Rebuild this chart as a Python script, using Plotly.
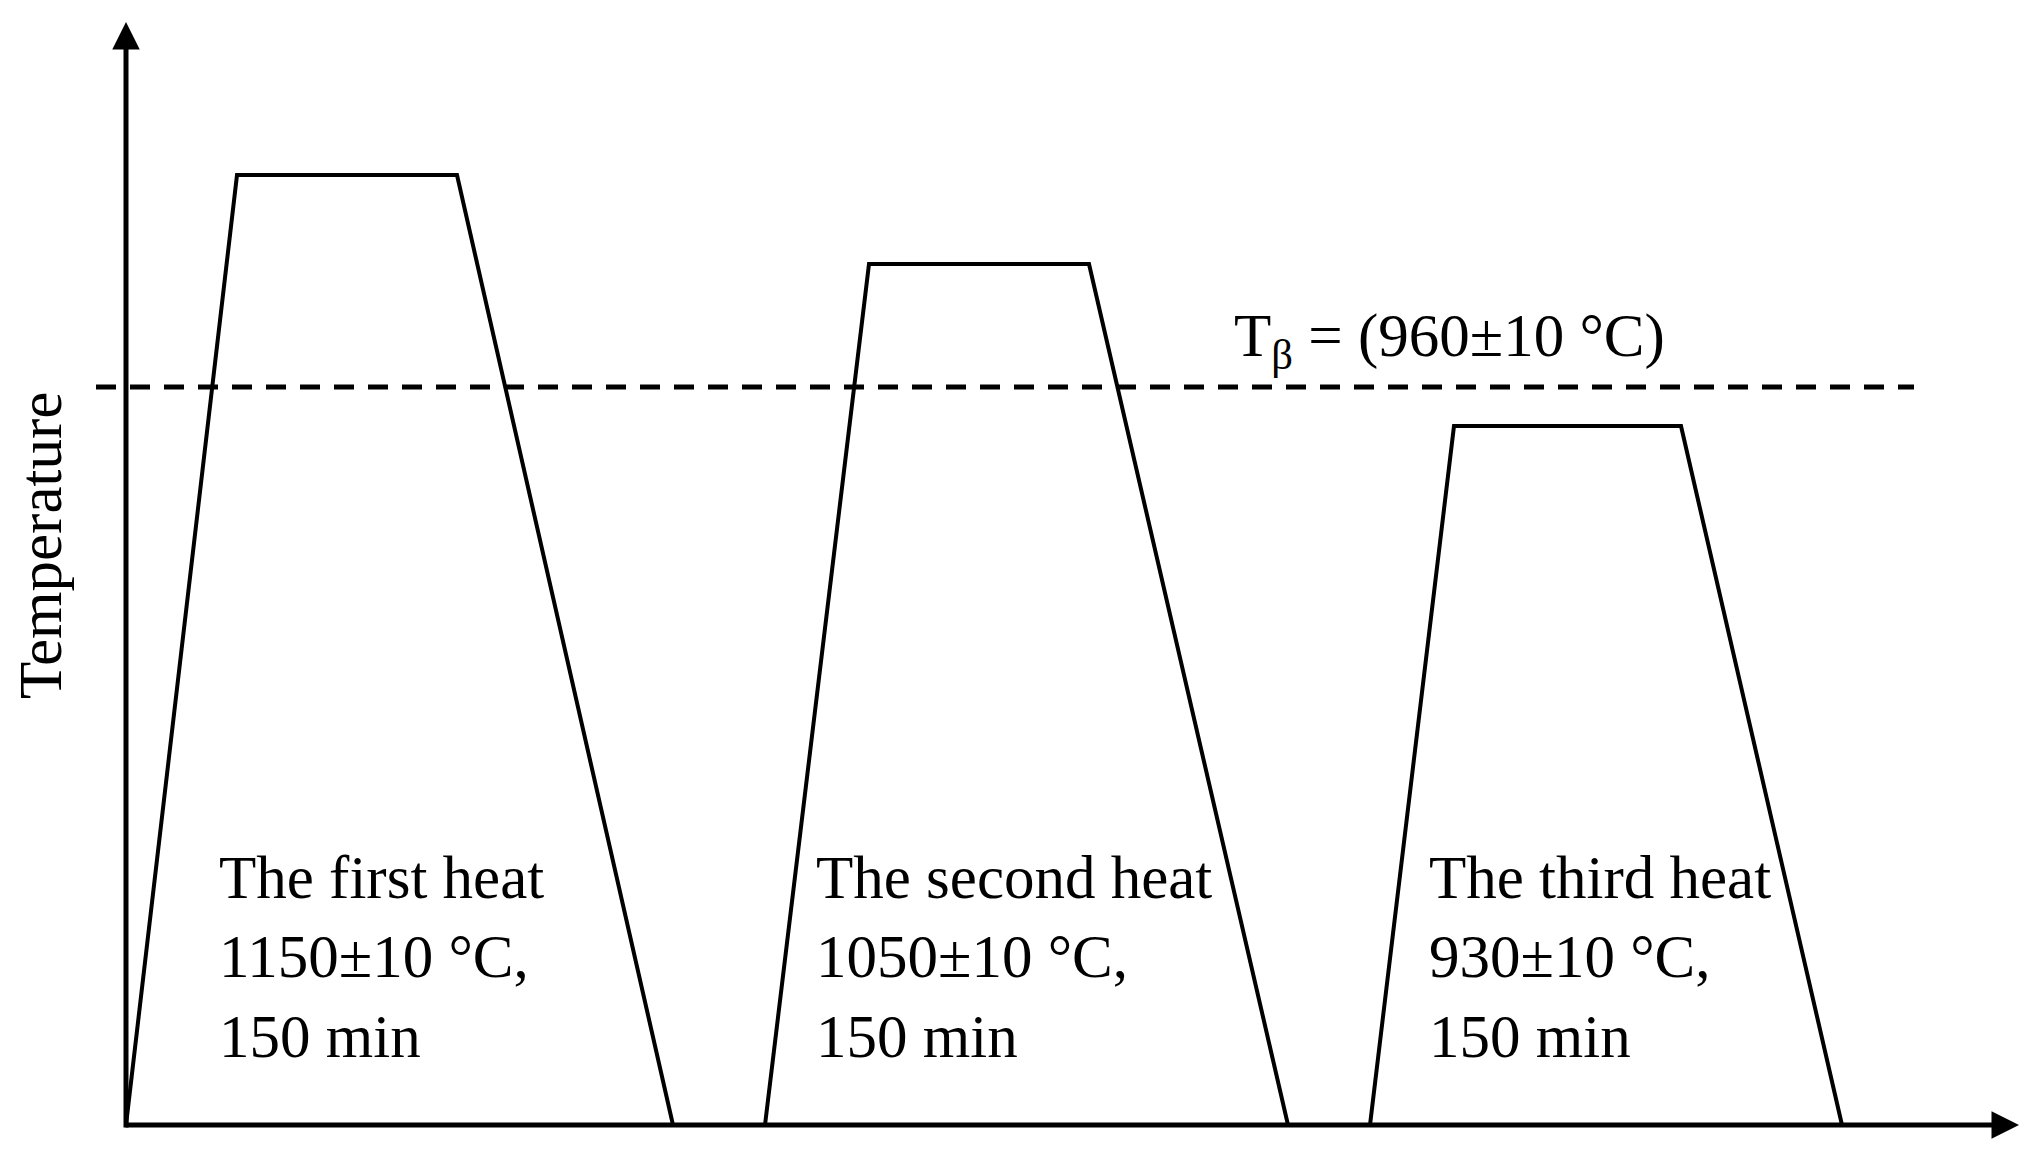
import plotly.graph_objects as go

# schematic units: time from the y-axis, temperature height above the x-axis
heat_names = ["The first heat", "The second heat", "The third heat"]
heat_temps = ["1150±10 °C,", "1050±10 °C,", "930±10 °C,"]
heat_times = ["150 min", "150 min", "150 min"]

heat_x = [
    [0, 111, 331, 547],
    [639, 743, 963, 1162],
    [1244, 1328, 1555, 1716],
]
heat_y = [
    [0, 950, 950, 0],
    [0, 861, 861, 0],
    [0, 699, 699, 0],
]
label_x = [91, 688, 1301]

t_beta = 738
t_beta_label = "T<sub>β</sub> = (960±10 °C)"
dash_x = [-30, 1788]

serif = "Liberation Serif, Times New Roman, serif"

fig = go.Figure()

for xs, ys in zip(heat_x, heat_y):
    fig.add_trace(go.Scatter(x=xs, y=ys, mode="lines",
                             line=dict(color="black", width=4),
                             showlegend=False, hoverinfo="skip"))

fig.add_trace(go.Scatter(x=dash_x, y=[t_beta, t_beta], mode="lines",
                         line=dict(color="black", width=5, dash="20px,14px"),
                         showlegend=False, hoverinfo="skip"))

annotations = []
# axes with arrowheads
annotations.append(dict(x=0, y=1103, ax=0, ay=-4, xref="x", yref="y",
                        axref="x", ayref="y", showarrow=True, arrowhead=2,
                        arrowsize=1.1, arrowwidth=5, arrowcolor="black", text=""))
annotations.append(dict(x=1893, y=0, ax=-2, ay=0, xref="x", yref="y",
                        axref="x", ayref="y", showarrow=True, arrowhead=2,
                        arrowsize=1.1, arrowwidth=5, arrowcolor="black", text=""))

for name, temp, tm, lx in zip(heat_names, heat_temps, heat_times, label_x):
    annotations.append(dict(x=lx, y=168, xref="x", yref="y", showarrow=False,
                            xanchor="left", yanchor="middle", align="left",
                            text=name + "<br>" + temp + "<br>" + tm,
                            font=dict(family=serif, size=61, color="black")))

annotations.append(dict(x=1106, y=785, xref="x", yref="y", showarrow=False,
                        xanchor="left", yanchor="middle", text=t_beta_label,
                        font=dict(family=serif, size=61, color="black")))

annotations.append(dict(x=-86, y=579, xref="x", yref="y", showarrow=False,
                        textangle=-90, text="Temperature",
                        font=dict(family=serif, size=61, color="black")))

fig.update_layout(
    width=2041, height=1161,
    margin=dict(l=0, r=0, t=0, b=0),
    paper_bgcolor="white", plot_bgcolor="white",
    xaxis=dict(range=[-118, 1923], visible=False, fixedrange=True),
    yaxis=dict(range=[-44, 1117], visible=False, fixedrange=True),
    annotations=annotations,
)

fig.write_html("out.html")
